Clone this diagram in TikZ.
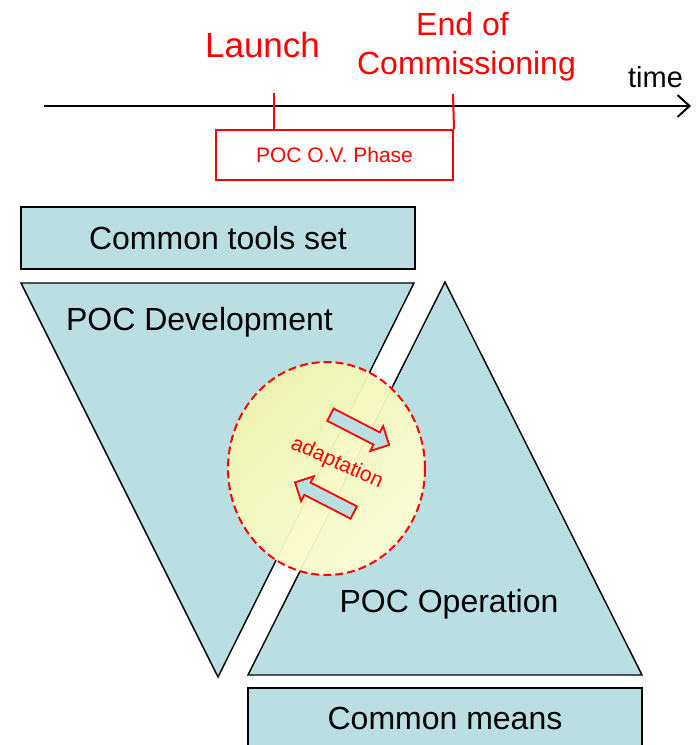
\documentclass[tikz,border=0pt]{standalone}
\usepackage{fontspec}
\setmainfont{Liberation Sans}
\usetikzlibrary{shapes.geometric,arrows.meta}
\definecolor{paleblue}{HTML}{B9DFE3}
\definecolor{pocred}{HTML}{FF0000}
\definecolor{haloA}{HTML}{F1F5B0}
\definecolor{haloB}{HTML}{FCFDBA}
\definecolor{haloC}{HTML}{FFFFD6}
\newcommand\fsz[1]{\fontsize{#1}{#1}\selectfont}
% block arrow pointing along +x, centred on the origin
\newcommand\blockarrowpath{(-33,-6.9) -- (19,-6.9) -- (19,-14) -- (33,0) -- (19,14) -- (19,6.9) -- (-33,6.9) -- cycle}

\begin{document}
\begin{tikzpicture}[x=1pt,y=-1pt,
  panel/.style={draw=black,line width=1.4pt,fill=paleblue},
  redline/.style={draw=pocred,line width=2pt},
  lbl/.style={inner sep=0pt,anchor=base},
  bigtext/.style={lbl,font=\fsz{32}},
  blockarrow/.style={draw=pocred,line width=1.8pt,fill=paleblue,line join=miter}
]
\useasboundingbox (0,0) rectangle (696,745);

% time axis
\coordinate (axisL) at (44,106);
\coordinate (axisR) at (691,106);
\draw[line width=2pt,-{Straight Barb[length=12pt,width=22pt]}] (axisL) -- (axisR);
\node[lbl,font=\fsz{29}] (time) at (655.5,87) {time};

% phase box and milestones
\node[redline,draw,minimum width=237pt,minimum height=50pt,inner sep=0pt,
  text=pocred,font=\fsz{21}] (phase) at (334.5,155) {POC O.V. Phase};
\coordinate (launchTop) at (274,93);
\coordinate (endTop) at (453,94);
\draw[redline] (launchTop) -- (launchTop |- phase.north);
\draw[redline] (endTop) -- (phase.north east);
\node[lbl,font=\fsz{35},text=pocred] (launch) at (262.5,57) {Launch};
\node[lbl,font=\fsz{32},text=pocred] (endof) at (462.5,35.5) {End of};
\node[lbl,font=\fsz{32},text=pocred] (comm) at (466.5,74) {Commissioning};

% common tools set
\node[panel,minimum width=394pt,minimum height=62pt,inner sep=0pt,font=\fsz{32}]
  (tools) at (218,238) {Common tools set};

% POC development (downward triangle)
\coordinate (devL) at (21,283);
\coordinate (devR) at (414,283);
\coordinate (devB) at (218,677);
\draw[panel] (devL) -- (devR) -- (devB) -- cycle;
\node[bigtext] (devtext) at (199.5,330) {POC Development};

% POC operation (upward triangle)
\coordinate (opT) at (445,282);
\coordinate (opR) at (642,675);
\coordinate (opL) at (248,675);
\draw[panel] (opT) -- (opR) -- (opL) -- cycle;
\node[bigtext] (optext) at (449,612) {POC Operation};

% common means
\coordinate (meansA) at (248,688);
\coordinate (meansB) at (642,770);
\draw[panel] (meansA) rectangle (meansB);
\node[bigtext] (means) at (445,729) {Common means};

% adaptation halo
\node[ellipse,draw=pocred,line width=2pt,dash pattern=on 8pt off 4pt,
  top color=haloA,middle color=haloB,bottom color=haloC,shading angle=45,
  fill opacity=0.95,minimum width=197pt,minimum height=213pt,inner sep=0pt]
  (halo) at (326.5,468.5) {};
\begin{scope}[shift={(359.8,429.8)},rotate=-27.3]
  \draw[blockarrow] \blockarrowpath;
\end{scope}
\begin{scope}[shift={(324.4,497.4)},rotate=152.8]
  \draw[blockarrow] \blockarrowpath;
\end{scope}
\node[inner sep=0pt,rotate=-24,font=\fsz{21},text=pocred] (adapt) at (337,463) {adaptation};
\end{tikzpicture}
\end{document}
